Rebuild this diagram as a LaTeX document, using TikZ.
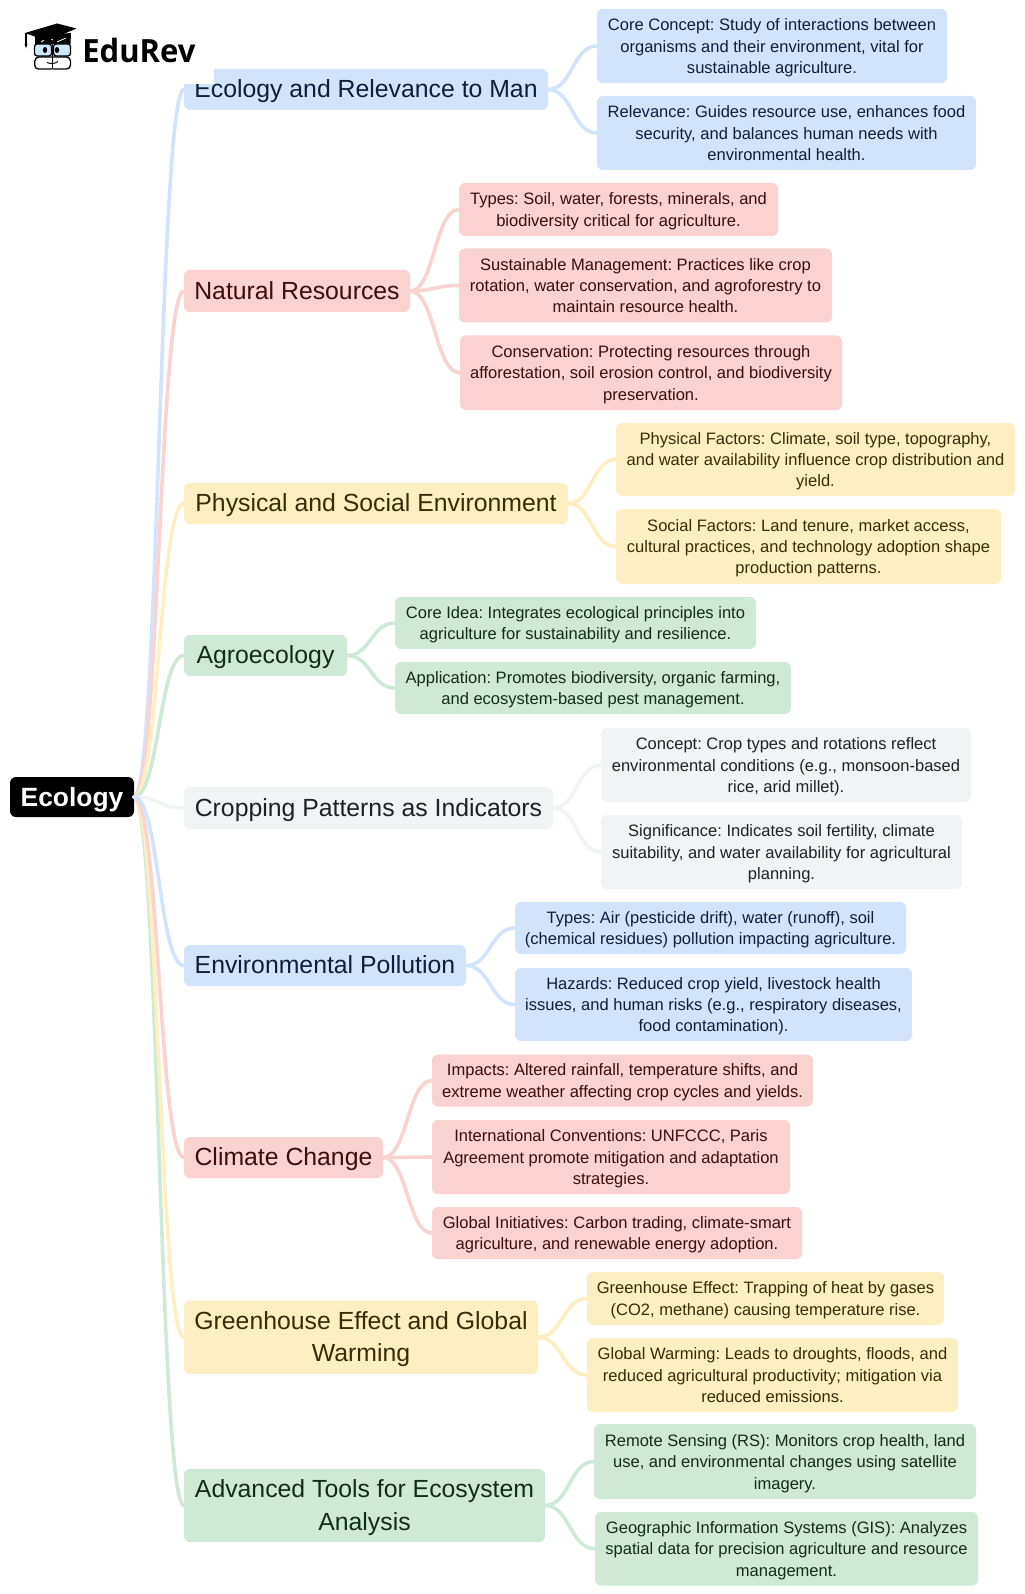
\documentclass[tikz,border=0pt]{standalone}
\usepackage{fontspec}
\setmainfont{Liberation Sans}
\newfontfamily\logofont[FakeStretch=0.97]{Open Sans}
\definecolor{bluef}{HTML}{D2E3FC}\definecolor{bluet}{HTML}{0D1F3C}
\definecolor{redf}{HTML}{FAD2CF}\definecolor{redt}{HTML}{3C0E0C}
\definecolor{yelf}{HTML}{FEEFC3}\definecolor{yelt}{HTML}{3A2B05}
\definecolor{grnf}{HTML}{CEEAD6}\definecolor{grnt}{HTML}{0F2E1A}
\definecolor{gryf}{HTML}{F1F3F4}\definecolor{gryt}{HTML}{202124}
\definecolor{lens}{HTML}{CDE8F8}
\tikzset{
  x=0.75pt,y=-0.75pt,
  boxnode/.style={rounded corners=4.5pt,inner sep=0pt,outer sep=0pt,align=center,anchor=center},
  leaf/.style={boxnode,font=\frenchspacing\fontsize{12.4pt}{16.1pt}\selectfont\def\tsh{11.6pt}},
  branch/.style={boxnode,font=\frenchspacing\fontsize{18.6pt}{24.2pt}\selectfont\def\tsh{16.4pt}},
  rootnode/.style={boxnode,fill=black,text=white,font=\fontsize{19.8pt}{25pt}\selectfont\bfseries\def\tsh{18.8pt}},
  bluek/.style={fill=bluef,text=bluet},
  redk/.style={fill=redf,text=redt},
  yelk/.style={fill=yelf,text=yelt},
  grnk/.style={fill=grnf,text=grnt},
  gryk/.style={fill=gryf,text=gryt},
  lnk/.style={line width=2.7pt,line cap=round},
  logoline/.style={draw=black,line width=1pt},
}
% \bx{style}{name}{x1}{y1}{x2}{y2}{text}
\newcommand{\bx}[7]{%
  \pgfmathsetmacro{\bw}{(#5-#3)*0.75}\pgfmathsetmacro{\bh}{(#6-#4)*0.75}%
  \node[#1,minimum width=\bw pt,minimum height=\bh pt] (#2) at ({(#3+#5)/2},{(#4+#6)/2}) {\rule{0pt}{\tsh}#7\vphantom{Ag}};}
% \lk{colour}{from}{to}
\newcommand{\lk}[3]{%
  \draw[lnk,#1] let \p1=(#2.east),\p2=(#3.west) in (#2.east) .. controls ({0.5*\x1+0.5*\x2},\y1) and ({0.5*\x1+0.5*\x2},\y2) .. (#3.west);}
\usetikzlibrary{calc}
\begin{document}
\begin{tikzpicture}
\useasboundingbox[fill=white] (0,0) rectangle (1024,1594);
% root
\bx{rootnode}{root}{10}{777}{134}{817}{Ecology}
% branches
\bx{branch,bluek}{b1}{184}{69}{548}{110}{Ecology and Relevance to Man}
\bx{branch,redk}{b2}{184}{270}{410}{312}{Natural Resources}
\bx{branch,yelk}{b3}{184}{483}{568}{524}{Physical and Social Environment}
\bx{branch,grnk}{b4}{184}{635}{347}{676}{Agroecology}
\bx{branch,gryk}{b5}{184}{787}{553}{829}{Cropping Patterns as Indicators}
\bx{branch,bluek}{b6}{184}{945}{466}{986}{Environmental Pollution}
\bx{branch,redk}{b7}{184}{1137}{383}{1178}{Climate Change}
\bx{branch,yelk}{b8}{184}{1300.5}{538}{1374}{Greenhouse Effect and Global\\Warming}
\bx{branch,grnk}{b9}{184}{1469}{545}{1542}{Advanced Tools for Ecosystem\\Analysis}
% leaves
\bx{leaf,bluek}{l11}{597}{9}{947}{83}{Core Concept: Study of interactions between\\organisms and their environment, vital for\\sustainable agriculture.}
\bx{leaf,bluek}{l12}{597}{96}{976}{170}{Relevance: Guides resource use, enhances food\\security, and balances human needs with\\environmental health.}
\bx{leaf,redk}{l21}{459}{183}{778}{236}{Types: Soil, water, forests, minerals, and\\biodiversity critical for agriculture.}
\bx{leaf,redk}{l22}{459}{248.5}{832}{322.5}{Sustainable Management: Practices like crop\\rotation, water conservation, and agroforestry to\\maintain resource health.}
\bx{leaf,redk}{l23}{460}{335.5}{842}{410}{Conservation: Protecting resources through\\afforestation, soil erosion control, and biodiversity\\preservation.}
\bx{leaf,yelk}{l31}{616}{423}{1015}{496}{Physical Factors: Climate, soil type, topography,\\and water availability influence crop distribution and\\yield.}
\bx{leaf,yelk}{l32}{616}{509}{1001}{584}{Social Factors: Land tenure, market access,\\cultural practices, and technology adoption shape\\production patterns.}
\bx{leaf,grnk}{l41}{395}{597}{756}{649}{Core Idea: Integrates ecological principles into\\agriculture for sustainability and resilience.}
\bx{leaf,grnk}{l42}{395}{662}{791}{714}{Application: Promotes biodiversity, organic farming,\\and ecosystem-based pest management.}
\bx{leaf,gryk}{l51}{601}{728}{971}{802}{Concept: Crop types and rotations reflect\\environmental conditions (e.g., monsoon-based\\rice, arid millet).}
\bx{leaf,gryk}{l52}{601}{815}{962}{889}{Significance: Indicates soil fertility, climate\\suitability, and water availability for agricultural\\planning.}
\bx{leaf,bluek}{l61}{515}{902}{906}{954}{Types: Air (pesticide drift), water (runoff), soil\\(chemical residues) pollution impacting agriculture.}
\bx{leaf,bluek}{l62}{515}{968}{912}{1041}{Hazards: Reduced crop yield, livestock health\\issues, and human risks (e.g., respiratory diseases,\\food contamination).}
\bx{leaf,redk}{l71}{432}{1054.5}{813}{1106.5}{Impacts: Altered rainfall, temperature shifts, and\\extreme weather affecting crop cycles and yields.}
\bx{leaf,redk}{l72}{432}{1120}{790}{1194}{International Conventions: UNFCCC, Paris\\Agreement promote mitigation and adaptation\\strategies.}
\bx{leaf,redk}{l73}{432}{1207}{802}{1259}{Global Initiatives: Carbon trading, climate-smart\\agriculture, and renewable energy adoption.}
\bx{leaf,yelk}{l81}{587}{1272}{944}{1325}{Greenhouse Effect: Trapping of heat by gases\\(CO2, methane) causing temperature rise.}
\bx{leaf,yelk}{l82}{587}{1338}{958}{1412}{Global Warming: Leads to droughts, floods, and\\reduced agricultural productivity; mitigation via\\reduced emissions.}
\bx{leaf,grnk}{l91}{594}{1424}{976}{1499}{Remote Sensing (RS): Monitors crop health, land\\use, and environmental changes using satellite\\imagery.}
\bx{leaf,grnk}{l92}{595}{1512}{978}{1585.5}{Geographic Information Systems (GIS): Analyzes\\spatial data for precision agriculture and resource\\management.}
% connectors
\lk{bluef}{root}{b1}\lk{redf}{root}{b2}\lk{yelf}{root}{b3}\lk{grnf}{root}{b4}\lk{gryf}{root}{b5}
\lk{grnf}{root}{b9}\lk{yelf}{root}{b8}\lk{redf}{root}{b7}\lk{bluef}{root}{b6}
\lk{bluef}{b1}{l11}\lk{bluef}{b1}{l12}
\lk{redf}{b2}{l21}\lk{redf}{b2}{l22}\lk{redf}{b2}{l23}
\lk{yelf}{b3}{l31}\lk{yelf}{b3}{l32}
\lk{grnf}{b4}{l41}\lk{grnf}{b4}{l42}
\lk{gryf}{b5}{l51}\lk{gryf}{b5}{l52}
\lk{bluef}{b6}{l61}\lk{bluef}{b6}{l62}
\lk{redf}{b7}{l71}\lk{redf}{b7}{l72}\lk{redf}{b7}{l73}
\lk{yelf}{b8}{l81}\lk{yelf}{b8}{l82}
\lk{grnf}{b9}{l91}\lk{grnf}{b9}{l92}
% logo patch
\fill[white] (0,0) rectangle (214,84);
% logo
\node[anchor=base west,inner sep=0pt,font=\logofont\fontsize{24pt}{24pt}\selectfont\bfseries] (logo) at (82,62.5) {EduRev};
\fill[black] (35,36) -- (71,33) -- (70.5,44) -- (35,44) -- cycle;
\draw[white,line width=0.6pt] (41,42) .. controls (46,38) and (50,37) .. (53,40) (57,42) -- (66,38);
\fill[black] (25,33) -- (57,23.5) -- (76.5,28.5) -- (47,41) -- cycle;
\draw[black,line width=0.8pt] (26,33.5) -- (26,44);
\fill[black] (24.5,44) -- (27.5,44) -- (26,48.5) -- cycle;
\draw[logoline,fill=lens,rounded corners=2pt] (34.5,44) rectangle (51.5,56);
\draw[logoline,fill=lens,rounded corners=2pt] (53.5,44) rectangle (70.5,56);
\fill[black] (45,50) ellipse (2.2 and 3);
\fill[black] (57,50) ellipse (2.2 and 3);
\draw[logoline,rounded corners=3pt] (52,57) -- (35,57) -- (34.5,69) -- (52,69);
\draw[logoline,rounded corners=3pt] (53,57) -- (70.5,57) -- (70.5,69) -- (53,69);
\draw[logoline] (52.5,44) -- (52.5,69);
\draw[logoline,line width=0.7pt] (47,62.5) .. controls (50,64) and (55,64) .. (58,61.5);
\end{tikzpicture}
\end{document}
